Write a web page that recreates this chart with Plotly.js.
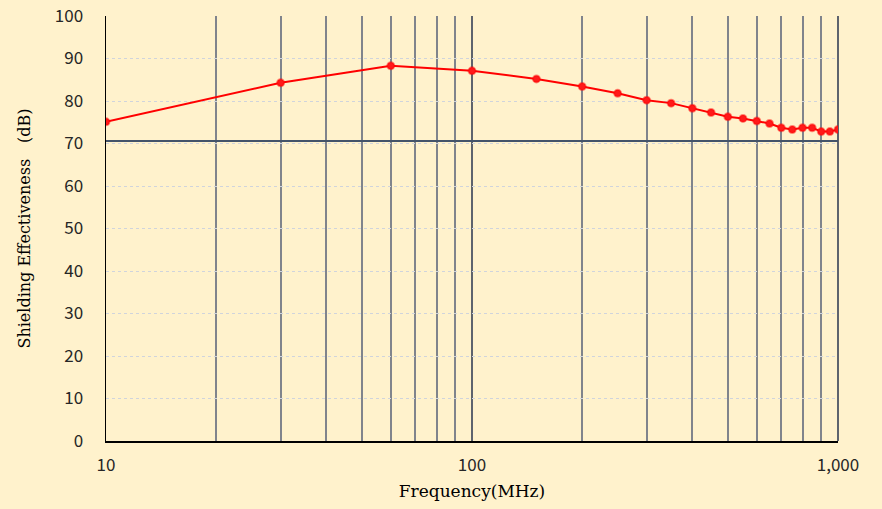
<!DOCTYPE html>
<html>
<head>
<meta charset="utf-8">
<script src="https://cdn.plot.ly/plotly-3.0.1.min.js"></script>
<style>html,body{margin:0;padding:0;background:#FFF2CC;}</style>
</head>
<body>
<div id="chart" style="width:882px;height:509px;"></div>
<script>
const frequencyMHz = [10, 30, 60, 100, 150, 200, 250, 300, 350, 400, 450, 500, 550, 600, 650, 700, 750, 800, 850, 900, 950, 1000];
const shieldingDB = [75.1, 84.3, 88.3, 87.1, 85.2, 83.4, 81.8, 80.2, 79.5, 78.3, 77.3, 76.3, 75.9, 75.3, 74.7, 73.7, 73.3, 73.7, 73.7, 72.8, 72.8, 73.3];
const limitFreq = [10, 1000];
const limitDB = [70.6, 70.6];
const majorTicks = [10, 100, 1000];
const majorTickText = ['10', '100', '1,000'];
const minorGrid = [20, 30, 40, 50, 60, 70, 80, 90, 200, 300, 400, 500, 600, 700, 800, 900];
const yTicks = [0, 10, 20, 30, 40, 50, 60, 70, 80, 90, 100];

const traces = [
  {
    x: limitFreq, y: limitDB, mode: 'lines', type: 'scatter',
    line: {color: '#44546A', width: 2}, hoverinfo: 'skip', showlegend: false
  },
  {
    x: frequencyMHz, y: shieldingDB, mode: 'lines+markers', type: 'scatter',
    line: {color: '#FF0000', width: 2},
    marker: {color: '#FF1A1A', size: 7, line: {color: 'rgba(255,0,0,0.45)', width: 2}},
    showlegend: false
  }
];

const tickFont = {family: '"Noto Sans CJK JP", "Noto Sans", sans-serif', size: 17, color: '#262626'};
const titleFont = {family: '"DejaVu Serif", "Liberation Serif", serif', size: 16, color: '#000000'};

const layout = {
  width: 882, height: 509,
  margin: {l: 106, r: 44, t: 16, b: 68},
  paper_bgcolor: '#FFF2CC',
  plot_bgcolor: '#FFF2CC',
  xaxis: {
    type: 'log',
    range: [1, 3],
    tickmode: 'array', tickvals: majorTicks, ticktext: majorTickText,
    showgrid: true, gridcolor: '#5E636D', gridwidth: 2,
    minor: {tickmode: 'array', tickvals: minorGrid, showgrid: true, gridcolor: '#80848C', gridwidth: 2, ticks: ''},
    showline: true, linecolor: '#000000', linewidth: 2,
    ticks: '', tickfont: tickFont, ticklabelstandoff: 8,
    zeroline: false,
    title: {text: 'Frequency(MHz)', font: {family: '"DejaVu Serif", "Liberation Serif", serif', size: 17, color: '#000000'}, standoff: 10}
  },
  yaxis: {
    range: [0, 100],
    tickmode: 'array', tickvals: yTicks,
    showgrid: true, gridcolor: '#D0D4DC', gridwidth: 1, griddash: 'dot',
    showline: true, linecolor: '#000000', linewidth: 1.5,
    ticks: '', tickfont: tickFont, ticklabelstandoff: 18,
    zeroline: false,
    title: {text: 'Shielding Effectiveness\u3000(dB)', font: titleFont, standoff: 20}
  },
  shapes: [
    {type: 'line', xref: 'paper', yref: 'paper', x0: 1, x1: 1, y0: 0, y1: 1,
     line: {color: '#5E636D', width: 2}, layer: 'below'}
  ]
};

Plotly.newPlot('chart', traces, layout, {displayModeBar: false, staticPlot: true});
</script>
</body>
</html>
